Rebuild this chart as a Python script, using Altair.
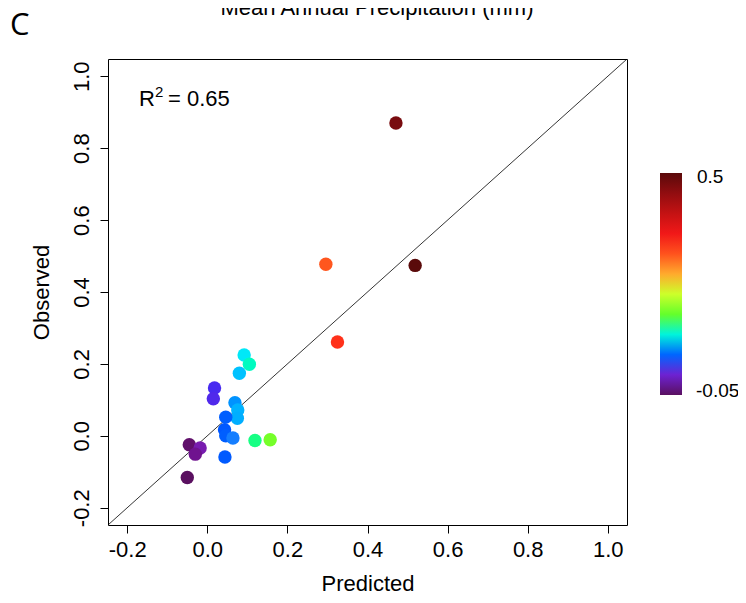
import altair as alt
import pandas as pd

# ---- data ----
predicted = [0.471, 0.519, 0.296, 0.325, 0.092, 0.105, 0.080, 0.018, 0.015, 0.069,
             0.076, 0.075, 0.046, 0.043, 0.046, 0.064, 0.119, 0.157, 0.044, -0.045,
             -0.018, -0.030, -0.050]
observed = [0.870, 0.474, 0.477, 0.261, 0.225, 0.199, 0.174, 0.133, 0.103, 0.092,
            0.072, 0.049, 0.052, 0.017, 0.000, -0.006, -0.013, -0.011, -0.059, -0.025,
            -0.034, -0.051, -0.116]

axis_ticks = [-0.2, 0.0, 0.2, 0.4, 0.6, 0.8, 1.0]
axis_domain = [-0.248, 1.048]
ref_line = [-0.248, 1.048]

color_domain = [-0.05, -0.012, 0.027, 0.065, 0.088, 0.11, 0.137, 0.187, 0.225,
                0.253, 0.286, 0.335, 0.423, 0.5]
color_range = ["#5a1060", "#7a20c0", "#1030ff", "#1a80ff", "#30e0ff", "#30ffa0",
               "#30ff30", "#b0ff30", "#ffff30", "#ffa030", "#ff6020", "#ff1a1a",
               "#b01010", "#5a0a0a"]
legend_labels = ["0.5", "-0.05"]

title_text = "Mean Annual Precipitation (mm)"
panel_label = "C"
r2_base = "R"
r2_sup = "2"
r2_rest = "= 0.65"

W, H = 519, 466
FONT = "Liberation Sans"

df = pd.DataFrame({"Predicted": predicted, "Observed": observed})
line_df = pd.DataFrame({"a": ref_line, "b": ref_line})

minus_fix = "replace(format(datum.value, '.1f'), '\u2212', '-')"

x_scale = alt.Scale(domain=axis_domain, nice=False, zero=False)
y_scale = alt.Scale(domain=axis_domain, nice=False, zero=False)

x_axis = alt.Axis(values=axis_ticks, labelExpr=minus_fix, title="Predicted",
                  titleX=W / 2, titleY=65, titleBaseline="alphabetic",
                  titleAnchor="middle", titleAlign="center")
y_axis = alt.Axis(values=axis_ticks, labelExpr=minus_fix, title="Observed",
                  labelAngle=270, labelAlign="center", labelBaseline="alphabetic",
                  labelPadding=12,
                  titleAngle=270, titleX=-60, titleY=H / 2,
                  titleBaseline="alphabetic", titleAlign="center")

points = alt.Chart(df).mark_circle(size=180, opacity=1).encode(
    x=alt.X("Predicted:Q", scale=x_scale, axis=x_axis),
    y=alt.Y("Observed:Q", scale=y_scale, axis=y_axis),
    color=alt.Color(
        "Predicted:Q",
        scale=alt.Scale(domain=color_domain, range=color_range, clamp=True),
        legend=alt.Legend(
            title=None, orient="none", legendX=552, legendY=114,
            direction="vertical", gradientLength=222, gradientThickness=22,
            gradientStrokeWidth=0, labelOpacity=0, padding=0,
        ),
    ),
)

diag = alt.Chart(line_df).mark_line(color="black", strokeWidth=0.8, clip=True).encode(
    x=alt.X("a:Q", scale=x_scale),
    y=alt.Y("b:Q", scale=y_scale),
)


def txt(s, x, y, size, font=FONT, baseline="alphabetic", align="left"):
    return alt.Chart(pd.DataFrame({"t": [s]})).mark_text(
        font=font, fontSize=size, align=align, baseline=baseline, color="black"
    ).encode(x=alt.value(x), y=alt.value(y), text="t:N")


title = txt(title_text, 269, -44, 22, align="center")
label_c = txt(panel_label, -98, -24, 31, font="Open Sans")
r2_a = txt(r2_base, 31, 47, 22)
r2_b = txt(r2_sup, 47, 38, 15)
r2_c = txt(r2_rest, 60, 47, 22)
leg_hi = txt(legend_labels[0], 589, 118, 19, baseline="middle")
leg_lo = txt(legend_labels[1], 588, 332, 19, baseline="middle")

chart = alt.layer(diag, points, title, label_c, r2_a, r2_b, r2_c,
                  leg_hi, leg_lo).properties(
    width=W, height=H,
    autosize=alt.AutoSizeParams(type="none"),
    padding={"left": 100, "top": 51, "right": 111, "bottom": 70},
).configure_view(
    stroke="black", strokeWidth=1
).configure_axis(
    domain=False, grid=False, tickColor="black", tickSize=8, tickWidth=1,
    labelFont=FONT, labelFontSize=22, labelColor="black", labelPadding=6,
    titleFont=FONT, titleFontSize=22, titleColor="black", titleFontWeight="normal",
    labelFlush=False, labelOverlap=False,
)

chart.save("out.html", embed_options={"renderer": "svg", "actions": False})
